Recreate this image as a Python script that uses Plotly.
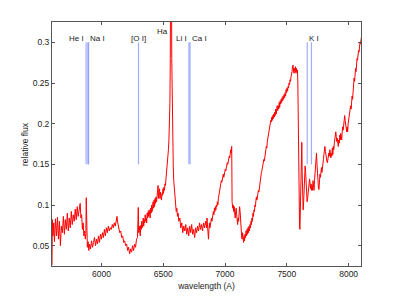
import plotly.graph_objects as go

# spectrum: (wavelength in Angstrom, relative flux)
spectrum = [
 (5600, 0.026), (5603, 0.082), (5608, 0.062), (5614, 0.078), (5620, 0.055), (5628, 0.083),
 (5636, 0.062), (5644, 0.085), (5652, 0.058), (5660, 0.080), (5668, 0.050), (5676, 0.074),
 (5684, 0.066), (5692, 0.086), (5700, 0.064), (5708, 0.082), (5716, 0.070), (5724, 0.090),
 (5732, 0.068), (5740, 0.084), (5748, 0.072), (5756, 0.092), (5764, 0.076), (5772, 0.088),
 (5780, 0.080), (5788, 0.095), (5796, 0.082), (5804, 0.098), (5812, 0.086), (5820, 0.096),
 (5828, 0.102), (5834, 0.084), (5840, 0.088), (5846, 0.070), (5852, 0.078), (5858, 0.062),
 (5864, 0.068), (5870, 0.058), (5874, 0.065), (5877, 0.109), (5880, 0.060), (5886, 0.048),
 (5892, 0.055), (5898, 0.044), (5904, 0.052), (5912, 0.046), (5920, 0.056), (5928, 0.048),
 (5936, 0.054), (5944, 0.060), (5952, 0.050), (5960, 0.058), (5968, 0.052), (5976, 0.062),
 (5984, 0.054), (5992, 0.064), (6000, 0.058), (6008, 0.066), (6016, 0.060), (6024, 0.070),
 (6032, 0.062), (6040, 0.072), (6048, 0.066), (6056, 0.074), (6064, 0.068), (6072, 0.072),
 (6080, 0.070), (6088, 0.076), (6096, 0.072), (6104, 0.078), (6112, 0.074), (6120, 0.082),
 (6126, 0.086), (6132, 0.078), (6140, 0.072), (6148, 0.066), (6156, 0.068), (6164, 0.060),
 (6172, 0.062), (6180, 0.054), (6188, 0.056), (6196, 0.050), (6204, 0.052), (6212, 0.044),
 (6220, 0.048), (6228, 0.040), (6236, 0.046), (6244, 0.042), (6252, 0.050), (6260, 0.044),
 (6268, 0.052), (6276, 0.048), (6284, 0.058), (6292, 0.060), (6298, 0.097), (6302, 0.066),
 (6306, 0.074), (6310, 0.068), (6314, 0.062), (6318, 0.075), (6322, 0.070), (6326, 0.080),
 (6330, 0.072), (6334, 0.076), (6338, 0.084), (6342, 0.074), (6346, 0.082), (6350, 0.078),
 (6354, 0.088), (6358, 0.080), (6362, 0.084), (6366, 0.078), (6370, 0.090), (6374, 0.084),
 (6378, 0.092), (6382, 0.086), (6386, 0.094), (6390, 0.088), (6394, 0.084), (6398, 0.096),
 (6402, 0.090), (6406, 0.100), (6410, 0.092), (6414, 0.098), (6418, 0.104), (6422, 0.096),
 (6426, 0.106), (6430, 0.098), (6434, 0.108), (6438, 0.102), (6442, 0.110), (6446, 0.104),
 (6450, 0.112), (6454, 0.118), (6458, 0.124), (6462, 0.108), (6466, 0.114), (6470, 0.120),
 (6474, 0.108), (6478, 0.116), (6482, 0.110), (6486, 0.106), (6490, 0.114), (6494, 0.112),
 (6498, 0.120), (6502, 0.114), (6506, 0.122), (6510, 0.118), (6514, 0.126), (6518, 0.124),
 (6522, 0.132), (6526, 0.138), (6530, 0.144), (6534, 0.150), (6538, 0.158), (6542, 0.168),
 (6546, 0.180), (6550, 0.196), (6554, 0.225), (6557, 0.280), (6560, 0.400), (6563, 0.500),
 (6566, 0.400), (6569, 0.280), (6573, 0.200), (6577, 0.165), (6581, 0.148), (6585, 0.130),
 (6590, 0.118), (6595, 0.104), (6600, 0.100), (6605, 0.092), (6610, 0.096), (6615, 0.086),
 (6620, 0.090), (6626, 0.080), (6634, 0.084), (6642, 0.072), (6650, 0.078), (6658, 0.066),
 (6666, 0.074), (6674, 0.068), (6682, 0.076), (6690, 0.064), (6698, 0.072), (6706, 0.062),
 (6714, 0.074), (6722, 0.066), (6730, 0.076), (6738, 0.064), (6746, 0.070), (6754, 0.060),
 (6762, 0.072), (6770, 0.066), (6778, 0.074), (6786, 0.068), (6794, 0.078), (6802, 0.070),
 (6810, 0.076), (6818, 0.068), (6826, 0.078), (6834, 0.072), (6842, 0.080), (6850, 0.072),
 (6854, 0.084), (6858, 0.074), (6862, 0.062), (6866, 0.058), (6870, 0.070), (6874, 0.078),
 (6878, 0.072), (6882, 0.080), (6886, 0.076), (6890, 0.084), (6894, 0.080), (6898, 0.088),
 (6902, 0.084), (6906, 0.092), (6910, 0.088), (6914, 0.096), (6918, 0.092), (6922, 0.098),
 (6926, 0.094), (6930, 0.100), (6934, 0.098), (6938, 0.104), (6942, 0.100), (6946, 0.108),
 (6950, 0.112), (6954, 0.110), (6958, 0.118), (6962, 0.122), (6966, 0.126), (6970, 0.130),
 (6974, 0.128), (6978, 0.134), (6982, 0.132), (6986, 0.138), (6990, 0.134), (6994, 0.140),
 (6998, 0.138), (7002, 0.144), (7006, 0.142), (7010, 0.148), (7014, 0.146), (7018, 0.152),
 (7022, 0.150), (7026, 0.156), (7030, 0.154), (7034, 0.160), (7038, 0.158), (7042, 0.164),
 (7046, 0.168), (7050, 0.164), (7054, 0.172), (7057, 0.104), (7062, 0.096), (7066, 0.100),
 (7070, 0.092), (7074, 0.098), (7078, 0.088), (7082, 0.084), (7086, 0.092), (7090, 0.096),
 (7094, 0.088), (7098, 0.082), (7102, 0.076), (7106, 0.084), (7110, 0.080), (7114, 0.090),
 (7118, 0.098), (7122, 0.092), (7126, 0.078), (7130, 0.068), (7134, 0.062), (7138, 0.058),
 (7142, 0.066), (7146, 0.060), (7150, 0.054), (7154, 0.062), (7158, 0.056), (7162, 0.064),
 (7166, 0.060), (7170, 0.068), (7174, 0.062), (7178, 0.070), (7182, 0.064), (7186, 0.072),
 (7190, 0.066), (7194, 0.074), (7198, 0.068), (7202, 0.076), (7206, 0.072), (7210, 0.080),
 (7214, 0.076), (7218, 0.084), (7222, 0.080), (7226, 0.090), (7230, 0.086), (7234, 0.094),
 (7238, 0.092), (7242, 0.100), (7246, 0.098), (7250, 0.106), (7254, 0.110), (7258, 0.106),
 (7262, 0.114), (7266, 0.112), (7270, 0.118), (7274, 0.116), (7278, 0.122), (7282, 0.124),
 (7286, 0.130), (7290, 0.134), (7294, 0.140), (7298, 0.142), (7302, 0.146), (7306, 0.148),
 (7310, 0.152), (7314, 0.156), (7318, 0.154), (7322, 0.162), (7326, 0.164), (7330, 0.168),
 (7334, 0.172), (7338, 0.170), (7342, 0.178), (7346, 0.182), (7350, 0.180), (7354, 0.188),
 (7358, 0.192), (7362, 0.196), (7366, 0.200), (7370, 0.204), (7374, 0.202), (7378, 0.208),
 (7382, 0.204), (7386, 0.210), (7390, 0.206), (7394, 0.212), (7398, 0.208), (7402, 0.214),
 (7406, 0.210), (7410, 0.218), (7414, 0.212), (7418, 0.216), (7422, 0.222), (7426, 0.216),
 (7430, 0.222), (7434, 0.218), (7438, 0.226), (7442, 0.220), (7446, 0.228), (7450, 0.224),
 (7454, 0.230), (7458, 0.226), (7462, 0.232), (7466, 0.228), (7470, 0.234), (7474, 0.230),
 (7478, 0.236), (7482, 0.232), (7486, 0.238), (7490, 0.234), (7494, 0.242), (7498, 0.238),
 (7502, 0.244), (7506, 0.240), (7510, 0.246), (7514, 0.244), (7518, 0.250), (7522, 0.248),
 (7526, 0.254), (7530, 0.252), (7534, 0.258), (7538, 0.260), (7542, 0.264), (7546, 0.270),
 (7550, 0.272), (7554, 0.266), (7558, 0.262), (7562, 0.268), (7566, 0.264), (7570, 0.270),
 (7574, 0.262), (7578, 0.268), (7582, 0.264), (7586, 0.266), (7589, 0.250), (7593, 0.180),
 (7598, 0.110), (7603, 0.072), (7606, 0.070), (7610, 0.100), (7614, 0.140), (7618, 0.170),
 (7621, 0.177), (7624, 0.140), (7628, 0.110), (7632, 0.094), (7636, 0.104), (7640, 0.118),
 (7644, 0.130), (7648, 0.148), (7652, 0.140), (7656, 0.124), (7660, 0.110), (7664, 0.104),
 (7668, 0.108), (7672, 0.120), (7676, 0.114), (7680, 0.126), (7684, 0.132), (7688, 0.128),
 (7692, 0.120), (7696, 0.126), (7700, 0.118), (7704, 0.124), (7708, 0.118), (7712, 0.130),
 (7716, 0.122), (7720, 0.118), (7724, 0.130), (7728, 0.140), (7732, 0.152), (7736, 0.160),
 (7740, 0.164), (7744, 0.150), (7748, 0.134), (7752, 0.124), (7756, 0.120), (7760, 0.119),
 (7764, 0.130), (7768, 0.138), (7772, 0.134), (7776, 0.142), (7780, 0.146), (7784, 0.140),
 (7788, 0.150), (7792, 0.146), (7796, 0.156), (7800, 0.162), (7804, 0.168), (7808, 0.172),
 (7812, 0.166), (7816, 0.158), (7820, 0.162), (7824, 0.154), (7828, 0.152), (7832, 0.160),
 (7836, 0.156), (7840, 0.164), (7844, 0.160), (7848, 0.168), (7852, 0.164), (7856, 0.158),
 (7860, 0.164), (7864, 0.160), (7868, 0.170), (7872, 0.162), (7876, 0.172), (7880, 0.168),
 (7884, 0.176), (7888, 0.180), (7892, 0.186), (7896, 0.190), (7900, 0.184), (7904, 0.178),
 (7908, 0.182), (7912, 0.176), (7916, 0.172), (7920, 0.180), (7924, 0.176), (7928, 0.186),
 (7932, 0.180), (7936, 0.188), (7940, 0.184), (7944, 0.180), (7948, 0.190), (7952, 0.196),
 (7956, 0.192), (7960, 0.200), (7964, 0.206), (7968, 0.210), (7972, 0.204), (7976, 0.198),
 (7980, 0.194), (7984, 0.190), (7988, 0.196), (7992, 0.190), (7996, 0.200), (8000, 0.206),
 (8004, 0.212), (8008, 0.210), (8012, 0.216), (8016, 0.222), (8020, 0.218), (8024, 0.228),
 (8028, 0.234), (8032, 0.230), (8036, 0.240), (8040, 0.248), (8044, 0.256), (8048, 0.252),
 (8052, 0.262), (8056, 0.268), (8060, 0.264), (8064, 0.274), (8068, 0.280), (8072, 0.278),
 (8076, 0.286), (8080, 0.290), (8084, 0.288), (8088, 0.296), (8092, 0.300), (8096, 0.298),
 (8100, 0.304), (8105, 0.308),
]
wavelength = [w for w, f in spectrum]
flux = [f for w, f in spectrum]

# marked lines
line_wl = [5876, 5890, 5896, 6300, 6708, 6717, 7665, 7699]
line_bottom = 0.15
line_top = 0.30

label_text = ["He I", "Na I", "[O I]", "Li I", "Ca I", "K I", "Ha"]
label_wl = [5876, 5890, 6300, 6708, 6717, 7665, 6555]
label_flux = [0.3042, 0.3042, 0.3042, 0.3042, 0.3042, 0.3042, 0.3135]
label_anchor = ["right", "left", "center", "right", "left", "left", "right"]

xtick_vals = [6000, 6500, 7000, 7500, 8000]
ytick_vals = [0.05, 0.1, 0.15, 0.2, 0.25, 0.3]
ytick_text = ["0.05", "0.1", "0.15", "0.2", "0.25", "0.3"]

lx, ly = [], []
for w in line_wl:
    lx += [w, w, None]
    ly += [line_bottom, line_top, None]

fig = go.Figure()
fig.add_trace(go.Scatter(x=lx, y=ly, mode="lines",
                         line=dict(color="rgba(110,130,255,0.65)", width=1.2),
                         hoverinfo="skip", showlegend=False))
fig.add_trace(go.Scatter(x=wavelength, y=flux, mode="lines",
                         line=dict(color="#ff0000", width=1),
                         showlegend=False))

for t, w, f, a in zip(label_text, label_wl, label_flux, label_anchor):
    fig.add_annotation(x=w, y=f, text=t, showarrow=False, xanchor=a, yanchor="middle",
                       font=dict(size=8, color="#222"))

# y-axis title placed as a rotated annotation
fig.add_annotation(xref="paper", yref="paper", x=0, y=0.5, xanchor="center", yanchor="middle",
                   xshift=-27, text="relative flux", textangle=-90, showarrow=False,
                   font=dict(size=8.5, color="#222"))

axis_common = dict(showline=True, linecolor="#555", linewidth=1, mirror="allticks",
                   ticks="inside", ticklen=3, tickcolor="#555", showgrid=False,
                   zeroline=False, tickfont=dict(size=8.5, color="#222"), automargin=False)

fig.update_xaxes(range=[5600, 8100], tickvals=xtick_vals,
                 title=dict(text="wavelength (A)", font=dict(size=8.5, color="#222"), standoff=4),
                 **axis_common)
fig.update_yaxes(range=[0.025, 0.325], tickvals=ytick_vals, ticktext=ytick_text,
                 **axis_common)

fig.update_layout(width=391, height=292, margin=dict(l=44, r=38, t=14, b=34, autoexpand=False),
                  paper_bgcolor="white", plot_bgcolor="white",
                  font=dict(family="Liberation Sans, Arial, sans-serif"))

fig.write_html("out.html")
